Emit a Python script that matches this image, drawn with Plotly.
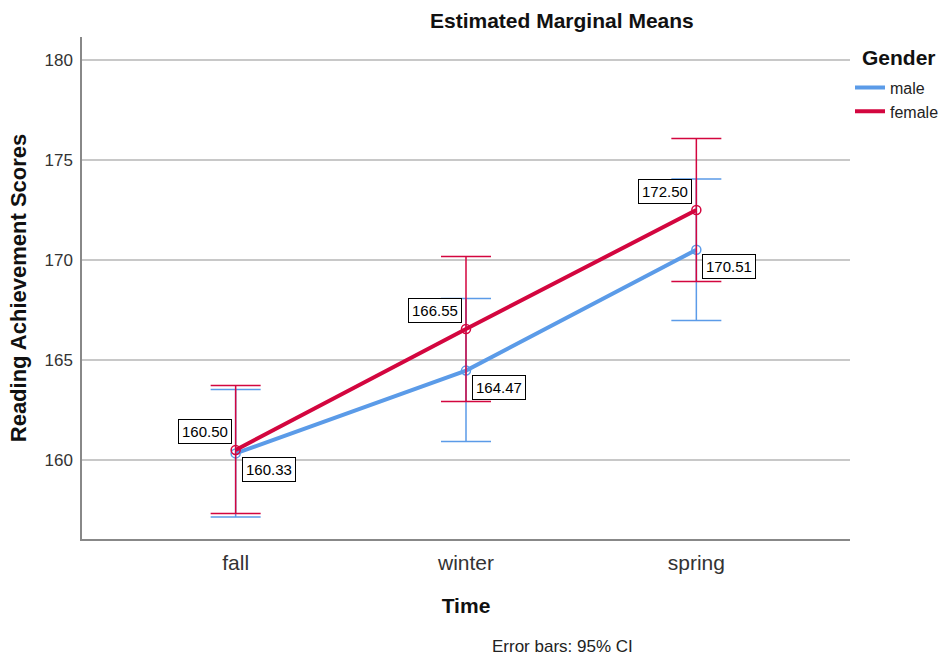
import plotly.graph_objects as go

times = ["fall", "winter", "spring"]
male_mean = [160.33, 164.47, 170.51]
male_lo = [157.15, 160.92, 166.97]
male_hi = [163.53, 168.08, 174.05]
female_mean = [160.50, 166.55, 172.50]
female_lo = [157.32, 162.92, 168.92]
female_hi = [163.72, 170.18, 176.08]
y_ticks = [160, 165, 170, 175, 180]

BLUE = "#5B9BE8"
RED = "#D3063F"

fig = go.Figure()
xs = [0, 1, 2]

def add_series(name, mean, lo, hi, color):
    fig.add_trace(go.Scatter(
        x=xs, y=mean, mode="lines+markers", name=name, showlegend=False,
        line=dict(color=color, width=4),
        marker=dict(symbol="circle-open", size=9, color=color, line=dict(width=1.5)),
        error_y=dict(type="data", symmetric=False,
                     array=[h - m for h, m in zip(hi, mean)],
                     arrayminus=[m - l for m, l in zip(mean, lo)],
                     color=color, thickness=1.5, width=25),
    ))

add_series("male", male_mean, male_lo, male_hi, BLUE)
add_series("female", female_mean, female_lo, female_hi, RED)

for name, color in [("male", BLUE), ("female", RED)]:
    fig.add_trace(go.Scatter(x=[None], y=[None], mode="lines", name=name,
                             line=dict(color=color, width=4)))

ann = []
for i, v in enumerate(female_mean):
    ann.append(dict(x=xs[i], y=v, xref="x", yref="y", text=f"{v:.2f}", showarrow=False,
                    xanchor="right", yanchor="bottom", xshift=-4, yshift=6,
                    bordercolor="#000", borderwidth=1, borderpad=3, bgcolor="white",
                    font=dict(family="Arial", size=15, color="#000")))
for i, v in enumerate(male_mean):
    ann.append(dict(x=xs[i], y=v, xref="x", yref="y", text=f"{v:.2f}", showarrow=False,
                    xanchor="left", yanchor="top", xshift=6, yshift=-4,
                    bordercolor="#000", borderwidth=1, borderpad=3, bgcolor="white",
                    font=dict(family="Arial", size=15, color="#000")))
ann.append(dict(x=0.625, y=-0.214, xref="paper", yref="paper", text="Error bars: 95% CI",
                showarrow=False, xanchor="center", yanchor="middle",
                font=dict(family="Arial", size=17, color="#222")))
ann.append(dict(x=0.625, y=1.0, xref="paper", yref="paper", text="<b>Estimated Marginal Means</b>",
                showarrow=False, xanchor="center", yanchor="bottom", yshift=3,
                font=dict(family="Arial", size=21, color="#111")))
# legend title
ann.append(dict(x=1.0, y=1.0, xref="paper", yref="paper", text="<b>Gender</b>",
                showarrow=False, xanchor="left", yanchor="middle", xshift=10, yshift=-20,
                font=dict(family="Arial", size=21, color="#111")))

fig.update_layout(
    width=943, height=658,
    margin=dict(l=82, r=93, t=37, b=119, autoexpand=False),
    paper_bgcolor="white", plot_bgcolor="white",
    font=dict(family="Arial", color="#222"),
    annotations=ann,
    showlegend=True,
    legend=dict(x=1.0, y=0.933, xanchor="left", yanchor="top",
                font=dict(size=16, family="Arial", color="#222"),
                itemwidth=30, tracegroupgap=0, bgcolor="rgba(0,0,0,0)"),
    xaxis=dict(range=[-0.667, 2.667], tickmode="array", tickvals=xs, ticktext=times,
               showgrid=False, showline=True, linecolor="#888", linewidth=1.5,
               ticks="", tickfont=dict(size=21, family="Arial", color="#333"),
               ticklabelstandoff=4, automargin=False,
               title=dict(text="<b>Time</b>", font=dict(size=21, family="Arial", color="#111"), standoff=25),
               zeroline=False),
    yaxis=dict(range=[156.05, 181.15], tickmode="array", tickvals=y_ticks,
               showgrid=True, gridcolor="#C8C8C8", gridwidth=1.5,
               showline=True, linecolor="#888", linewidth=1.5, ticks="",
               tickfont=dict(size=17, family="Arial", color="#333"), ticklabelstandoff=4,
               automargin=False,
               title=dict(text="<b>Reading Achievement Scores</b>", font=dict(size=22, family="Arial", color="#111"), standoff=12),
               zeroline=False),
)

fig.write_html("out.html", config={"displayModeBar": False},
               post_script="document.body.style.margin='0';document.body.style.padding='0';document.body.style.overflow='hidden';")
